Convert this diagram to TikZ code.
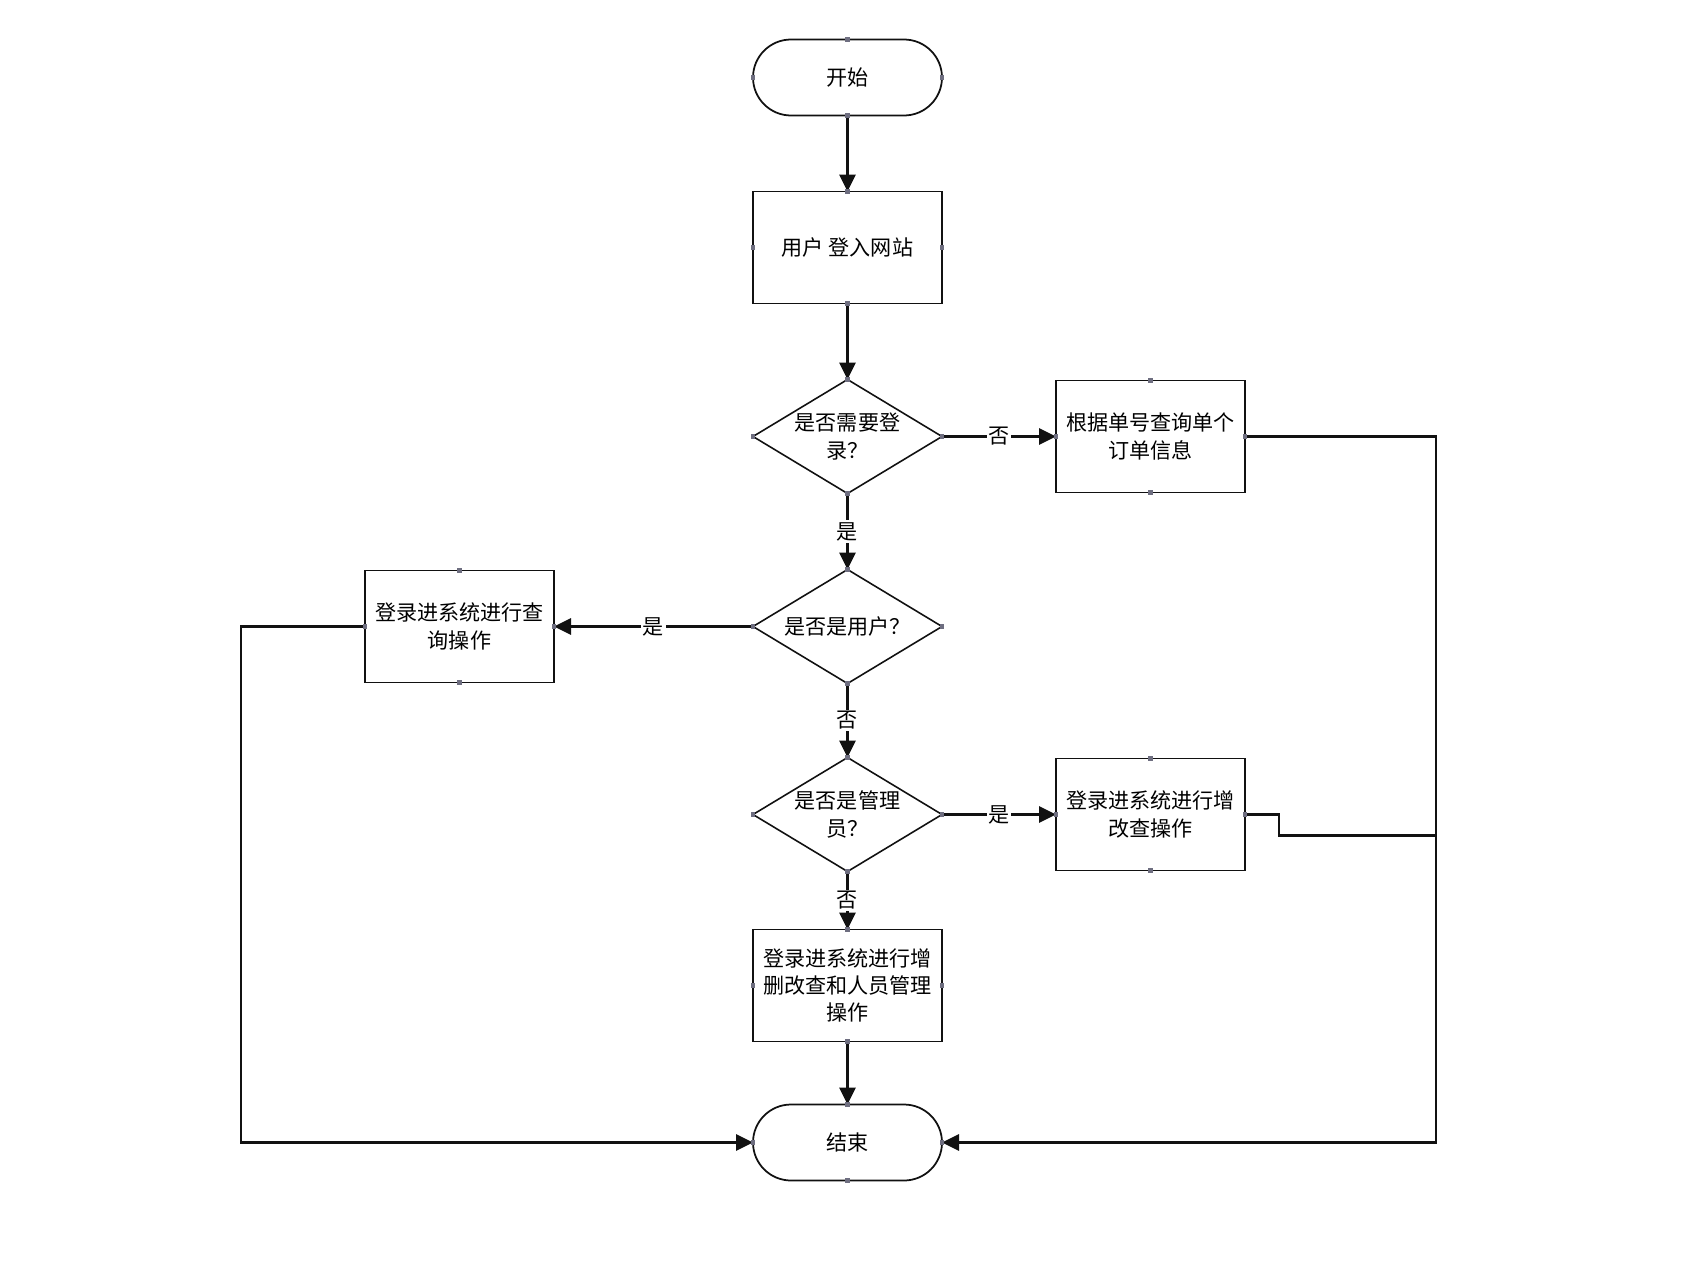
\documentclass[tikz,border=0pt]{standalone}
\usepackage{fontspec}
\setmainfont{Noto Sans CJK SC}
\usetikzlibrary{arrows.meta, positioning, shapes.geometric, calc}
\definecolor{cblack}{HTML}{111111}
\definecolor{cdot}{HTML}{6E6E80}
\tikzset{
  every picture/.style={font=\fontsize{12}{15.5}\selectfont, line width=1.6pt},
  term/.style={draw=cblack, line width=1pt, rounded corners=0.76cm, minimum width=3.78cm, minimum height=1.52cm, inner sep=0pt, outer sep=0pt},
  box/.style={draw=cblack, line width=0.6pt, align=center, minimum width=3.78cm, minimum height=2.24cm, inner sep=0pt, outer sep=0pt},
  decision/.style={draw=cblack, line width=0.9pt, diamond, shape aspect=1.66, align=center, minimum width=3.78cm, minimum height=2.28cm, inner sep=0pt, outer sep=0pt},
  arrow/.style={-{Triangle[length=3.4mm, width=3.2mm]}, draw=cblack, line width=1.6pt},
  line/.style={draw=cblack, line width=1.6pt},
  lbl/.style={fill=white, inner sep=1pt},
}

\begin{document}
\begin{tikzpicture}
  \useasboundingbox (0,0) rectangle (33.98,-25.4);
  % ---- main column ----
  \node[term] (start) at (16.95,-1.55) {开始};
  \node[box, below=1.52cm of start] (login) {用户 登入网站};
  \node[decision, below=1.52cm of login] (needlog) {是否需要登\\录？};
  \node[decision, below=1.52cm of needlog] (isuser) {是否是用户？};
  \node[decision, below=1.48cm of isuser] (isadmin) {是否是管理\\员？};
  \node[box, below=1.16cm of isadmin] (adminop) {登录进系统进行增\\删改查和人员管理\\操作};
  \node[term, below=1.26cm of adminop] (end) {结束};
  % ---- side boxes ----
  \node[box, right=2.28cm of needlog] (orderq) {根据单号查询单个\\订单信息};
  \node[box, left=3.98cm of isuser] (userop) {登录进系统进行查\\询操作};
  \node[box, right=2.28cm of isadmin] (staffop) {登录进系统进行增\\改查操作};
  % ---- connectors ----
  \draw[arrow] (start) -- (login);
  \draw[arrow] (login) -- (needlog);
  \draw[arrow] (needlog) -- node[lbl] {是} (isuser);
  \draw[arrow] (isuser) -- node[lbl] {否} (isadmin);
  \draw[arrow] (isadmin) -- node[lbl] {否} (adminop);
  \draw[arrow] (adminop) -- (end);
  \draw[arrow] (needlog) -- node[lbl] {否} (orderq);
  \draw[arrow] (isuser) -- node[lbl] {是} (userop);
  \draw[arrow] (isadmin) -- node[lbl] {是} (staffop);
  % return lines to the end node
  \coordinate (lrail) at ([xshift=-2.48cm]userop.west);
  \coordinate (rrail) at ([xshift=3.82cm]orderq.east);
  \draw[arrow] (userop.west) -- (lrail) |- (end.west);
  \draw[arrow] (orderq.east) -- (rrail) |- (end.east);
  \draw[line] (staffop.east) -- ++(0.68,0) -- ++(0,-0.42) coordinate (step) -- (step -| rrail);
  % connection points
  \foreach \n in {start,login,needlog,isuser,isadmin,adminop,end,orderq,userop,staffop}
    \foreach \a in {north,south,east,west}
      \fill[cdot] (\n.\a) +(-0.045,-0.045) rectangle +(0.045,0.045);
\end{tikzpicture}
\end{document}
